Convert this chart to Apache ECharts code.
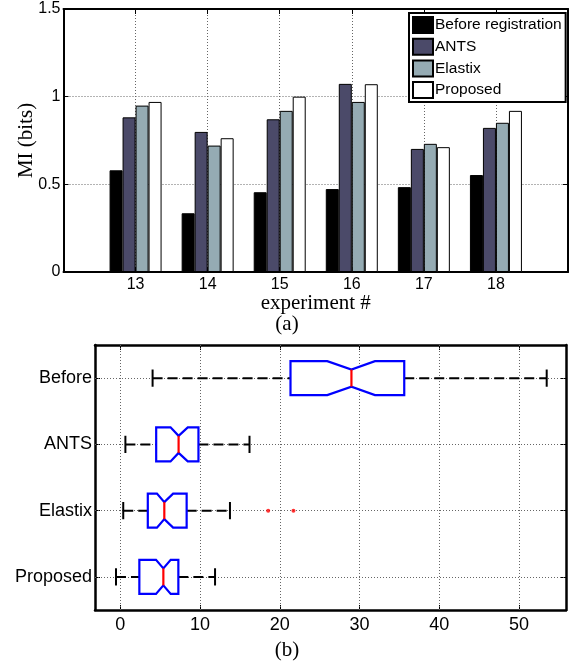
<!DOCTYPE html>
<html>
<head>
<meta charset="utf-8">
<script src="https://cdn.jsdelivr.net/npm/echarts@6/dist/echarts.min.js"></script>
<style>
html,body{margin:0;padding:0;background:#fff;}
#chart{width:574px;height:666px;}
</style>
</head>
<body>
<div id="chart"></div>
<script>
// ---- Data: bar chart (a) ----
const experiments = [13, 14, 15, 16, 17, 18];
const methodNames = ['Before registration', 'ANTS', 'Elastix', 'Proposed'];
const miBefore   = [0.58, 0.335, 0.455, 0.473, 0.484, 0.553];
const miANTS     = [0.882, 0.799, 0.871, 1.073, 0.702, 0.822];
const miElastix  = [0.949, 0.721, 0.919, 0.970, 0.731, 0.851];
const miProposed = [0.970, 0.763, 1.000, 1.071, 0.712, 0.919];
const barTicks = [0, 0.5, 1, 1.5];

// ---- Data: box plot (b) ----
const boxCategories = ['Before', 'ANTS', 'Elastix', 'Proposed'];
const whiskerLow  = [4.05, 0.64, 0.37, -0.54];
const quart1      = [21.34, 4.5, 3.45, 2.39];
const notchLow    = [25.95, 6.3, 4.6, 4.48];
const medians     = [28.98, 7.31, 5.52, 5.4];
const notchHigh   = [31.93, 8.46, 6.62, 6.32];
const quart3      = [35.6, 9.8, 8.32, 7.28];
const whiskerHigh = [53.46, 16.2, 13.75, 11.88];
const outlierCat  = ['Elastix', 'Elastix'];
const outlierVal  = [18.54, 21.71];
const boxTicks = [0, 10, 20, 30, 40, 50];

const SANS = '"Liberation Sans", Arial, sans-serif';
const SERIF = '"Liberation Serif", "Times New Roman", serif';

const chart = echarts.init(document.getElementById('chart'), null, {renderer: 'canvas'});

const barColors = ['#000000', '#4b4a69', '#95abb3', '#ffffff'];
const barData = [miBefore, miANTS, miElastix, miProposed];

const barSeries = methodNames.map((name, i) => ({
  name: name,
  type: 'bar',
  xAxisIndex: 0,
  yAxisIndex: 0,
  barWidth: 13,
  barGap: '0%',
  itemStyle: {color: barColors[i], borderColor: '#000', borderWidth: 1},
  emphasis: {disabled: true},
  data: experiments.map((e, j) => [e, barData[i][j]]),
  z: 2
}));

const boxData = boxCategories.map((c, i) => [i, whiskerLow[i], quart1[i], notchLow[i], medians[i], notchHigh[i], quart3[i], whiskerHigh[i]]);

function renderBox(params, api) {
  const cat = api.value(0);
  const v = [1,2,3,4,5,6,7].map(k => api.value(k));
  const X = val => api.coord([val, cat])[0];
  const y = api.coord([v[3], cat])[1];
  const band = api.size([0, 1])[1];
  const hh = band * 0.257;
  const nh = hh * 0.5;
  const capH = band * 0.13;
  const xlo = X(v[0]), xq1 = X(v[1]), xnl = X(v[2]), xmd = X(v[3]), xnh = X(v[4]), xq3 = X(v[5]), xhi = X(v[6]);
  const dash = {stroke: '#000', lineWidth: 2, lineDash: [10, 5]};
  return {
    type: 'group',
    children: [
      {type: 'line', shape: {x1: xlo, y1: y, x2: xq1, y2: y}, style: dash},
      {type: 'line', shape: {x1: xq3, y1: y, x2: xhi, y2: y}, style: dash},
      {type: 'line', shape: {x1: xlo, y1: y - capH, x2: xlo, y2: y + capH}, style: {stroke: '#000', lineWidth: 2}},
      {type: 'line', shape: {x1: xhi, y1: y - capH, x2: xhi, y2: y + capH}, style: {stroke: '#000', lineWidth: 2}},
      {type: 'polygon', shape: {points: [
        [xq1, y - hh], [xnl, y - hh], [xmd, y - nh], [xnh, y - hh], [xq3, y - hh],
        [xq3, y + hh], [xnh, y + hh], [xmd, y + nh], [xnl, y + hh], [xq1, y + hh]
      ]}, style: {fill: '#fff', stroke: '#0000ff', lineWidth: 2.2, lineJoin: 'miter'}},
      {type: 'line', shape: {x1: xmd, y1: y - nh, x2: xmd, y2: y + nh}, style: {stroke: '#ff0000', lineWidth: 2.2}}
    ]
  };
}

const gridLineStyle = {color: '#666', width: 1, type: [1, 2]};

const option = {
  backgroundColor: '#fff',
  animation: false,
  textStyle: {fontFamily: SANS},
  grid: [
    {left: 63.5, top: 9, width: 504.5, height: 263, outerBoundsMode: 'none', containLabel: false},
    {left: 95, top: 345, width: 471, height: 265, outerBoundsMode: 'none', containLabel: false}
  ],
  legend: {
    data: methodNames,
    orient: 'vertical',
    left: 409,
    top: 13,
    padding: [3, 4, 3, 3],
    itemGap: 3.7,
    itemWidth: 20,
    itemHeight: 16,
    icon: 'rect',
    borderColor: '#000',
    borderWidth: 2,
    backgroundColor: '#fff',
    borderRadius: 0,
    textStyle: {fontFamily: SANS, fontSize: 15.5, color: '#000', lineHeight: 16, padding: [0, 0, 0, -3]},
    z: 10
  },
  xAxis: [
    {
      gridIndex: 0, type: 'value', min: 12, max: 19, interval: 1,
      name: 'experiment #', nameLocation: 'middle', nameGap: 21, nameMoveOverlap: false,
      nameTextStyle: {fontFamily: SERIF, fontSize: 21, color: '#000'},
      axisLine: {show: true, onZero: false, lineStyle: {color: '#000', width: 2}},
      axisTick: {show: true, inside: true, length: 5, lineStyle: {color: '#000', width: 1}},
      axisLabel: {show: true, margin: 5, fontSize: 16, fontFamily: SANS, color: '#000',
        formatter: v => (v >= experiments[0] && v <= experiments[experiments.length - 1]) ? String(v) : ''},
      splitLine: {show: true, lineStyle: gridLineStyle}
    },
    {
      gridIndex: 0, type: 'value', position: 'top', min: 12, max: 19, interval: 1,
      axisLine: {show: true, onZero: false, lineStyle: {color: '#000', width: 2}},
      axisTick: {show: true, inside: true, length: 5, lineStyle: {color: '#000', width: 1}},
      axisLabel: {show: false}, splitLine: {show: false}
    },
    {
      gridIndex: 1, type: 'value', min: -3.17, max: 55.88,
      axisLine: {show: true, onZero: false, lineStyle: {color: '#000', width: 2.5}},
      axisTick: {show: true, inside: true, length: 5, customValues: boxTicks, lineStyle: {color: '#000', width: 1}},
      axisLabel: {show: true, margin: 6, fontSize: 18, fontFamily: SANS, color: '#000', customValues: boxTicks},
      splitLine: {show: false}
    },
    {
      gridIndex: 1, type: 'value', position: 'top', min: -3.17, max: 55.88,
      axisLine: {show: true, onZero: false, lineStyle: {color: '#000', width: 2.5}},
      axisTick: {show: true, inside: true, length: 5, customValues: boxTicks, lineStyle: {color: '#000', width: 1}},
      axisLabel: {show: false}, splitLine: {show: false}
    }
  ],
  yAxis: [
    {
      gridIndex: 0, type: 'value', min: 0, max: 1.5, interval: 0.5,
      name: 'MI (bits)', nameLocation: 'middle', nameGap: 27, nameRotate: 90, nameMoveOverlap: false,
      nameTextStyle: {fontFamily: SERIF, fontSize: 21, color: '#000'},
      axisLine: {show: true, onZero: false, lineStyle: {color: '#000', width: 2}},
      axisTick: {show: true, inside: true, length: 5, lineStyle: {color: '#000', width: 1}},
      axisLabel: {show: true, margin: 3, fontSize: 16, fontFamily: SANS, color: '#000',
        customValues: barTicks},
      splitLine: {show: true, lineStyle: gridLineStyle}
    },
    {
      gridIndex: 0, type: 'value', position: 'right', min: 0, max: 1.5, interval: 0.5,
      axisLine: {show: true, onZero: false, lineStyle: {color: '#000', width: 2}},
      axisTick: {show: true, inside: true, length: 5, lineStyle: {color: '#000', width: 1}},
      axisLabel: {show: false}, splitLine: {show: false}
    },
    {
      gridIndex: 1, type: 'category', data: boxCategories, inverse: true, boundaryGap: true,
      axisLine: {show: true, onZero: false, lineStyle: {color: '#000', width: 2.5}},
      axisTick: {show: true, inside: true, length: 5, alignWithLabel: true, lineStyle: {color: '#000', width: 1}},
      axisLabel: {show: true, margin: 3, fontSize: 18, fontFamily: SANS, color: '#000'},
      splitLine: {show: false}
    },
    {
      gridIndex: 1, type: 'category', data: boxCategories, inverse: true, boundaryGap: true, position: 'right',
      axisLine: {show: true, onZero: false, lineStyle: {color: '#000', width: 2.5}},
      axisTick: {show: true, inside: true, length: 5, alignWithLabel: true, lineStyle: {color: '#000', width: 1}},
      axisLabel: {show: false}, splitLine: {show: false}
    }
  ],
  graphic: [
    {type: 'text', left: 'center', top: 314, style: {text: '(a)', font: '21px "Liberation Serif", serif', fill: '#000'}},
    {type: 'text', left: 'center', top: 640, style: {text: '(b)', font: '21px "Liberation Serif", serif', fill: '#000'}}
  ],
  series: barSeries.concat([
    {
      type: 'custom',
      name: 'box',
      xAxisIndex: 2,
      yAxisIndex: 2,
      renderItem: renderBox,
      encode: {x: [1, 2, 3, 4, 5, 6, 7], y: 0},
      data: boxData,
      z: 3,
      silent: true
    },
    {
      type: 'scatter',
      name: 'outliers',
      xAxisIndex: 2,
      yAxisIndex: 2,
      symbol: 'circle',
      symbolSize: 4,
      itemStyle: {color: '#ff0000'},
      data: outlierVal.map((v, i) => [v, outlierCat[i]]),
      z: 4,
      silent: true,
      markLine: {
        silent: true,
        symbol: 'none',
        z: 1,
        label: {show: false},
        lineStyle: gridLineStyle,
        emphasis: {disabled: true},
        data: boxTicks.map(t => ({xAxis: t})).concat(boxCategories.map(c => ({yAxis: c})))
      }
    }
  ])
};

chart.setOption(option);
</script>
</body>
</html>
